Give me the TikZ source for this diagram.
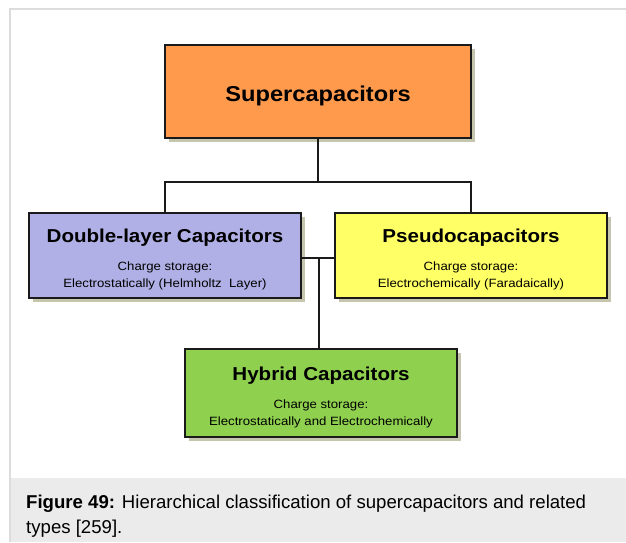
\documentclass[tikz,border=0pt]{standalone}
\usepackage{fontspec}
\setmainfont{Liberation Sans}
\newfontfamily\diagfont[FakeStretch=1.1]{Liberation Sans}
\usetikzlibrary{shadows}
\definecolor{boxorange}{HTML}{FF9A4D}
\definecolor{boxpurple}{HTML}{B0B0E6}
\definecolor{boxyellow}{HTML}{FFFF66}
\definecolor{boxgreen}{HTML}{8FD14F}
\definecolor{shadowgray}{HTML}{C6C6AE}
\definecolor{framegray}{HTML}{DCDCDC}
\definecolor{capgray}{HTML}{EBEBEB}
\definecolor{linedark}{HTML}{1A1A1A}
\newcommand{\toptitle}{\diagfont\fontsize{21.5}{26}\selectfont\bfseries\rule{0pt}{23.5pt}}
\newcommand{\boxtitle}{\diagfont\fontsize{18.7}{22}\selectfont\bfseries\rule{0pt}{22pt}}
\newcommand{\boxnote}{\diagfont\fontsize{12}{17}\selectfont}
\tikzset{
  classbox/.style={draw=linedark,line width=2.2pt,align=center,inner sep=0pt,
    font=\boxnote,minimum width=272pt,minimum height=85pt,
    drop shadow={shadow xshift=4pt,shadow yshift=-4pt,fill=shadowgray,opacity=1}},
  link/.style={draw=linedark,line width=2pt},
}

\begin{document}
\begin{tikzpicture}[x=1pt,y=-1pt]
\useasboundingbox (0,0) rectangle (626,542);
% ---------- 外框与图注底色 ----------
\fill[capgray] (10,478) rectangle (626,542);
\draw[framegray,line width=2pt] (10,542) -- (10,9) -- (626,9);
% ---------- 分类框 ----------
\node[classbox,fill=boxorange,minimum width=306pt,minimum height=93pt]
  (super) at (318,91.5) {\toptitle Supercapacitors};
\node[classbox,fill=boxpurple] (dlc) at (165,255.5)
  {\boxtitle Double-layer Capacitors\\[11pt]
   \boxnote Charge storage:\\Electrostatically (Helmholtz~~Layer)};
\node[classbox,fill=boxyellow] (pseudo) at (471,255.5)
  {\boxtitle Pseudocapacitors\\[11pt]
   \boxnote Charge storage:\\Electrochemically (Faradaically)};
\node[classbox,fill=boxgreen,minimum height=88pt] (hybrid) at (321,393)
  {\boxtitle Hybrid Capacitors\\[11pt]
   \boxnote Charge storage:\\Electrostatically and Electrochemically};
% ---------- 连线 ----------
\coordinate (split) at (318,182);
\coordinate (join) at (319,258);
\draw[link] (super) -- (split);
\draw[link] (dlc.north) |- (split) -| (pseudo.north);
\draw[link] (dlc.east |- join) -- (pseudo.west |- join);
\draw[link] (join) -- (join |- hybrid.north);
% ---------- 图注 ----------
\node[anchor=north west,align=left,inner sep=0pt,
  font=\fontsize{18.6}{25}\selectfont] (caption) at (26,494.5)
  {\textbf{Figure 49:} Hierarchical classification of supercapacitors and related\\
   types [259].};
\end{tikzpicture}
\end{document}
